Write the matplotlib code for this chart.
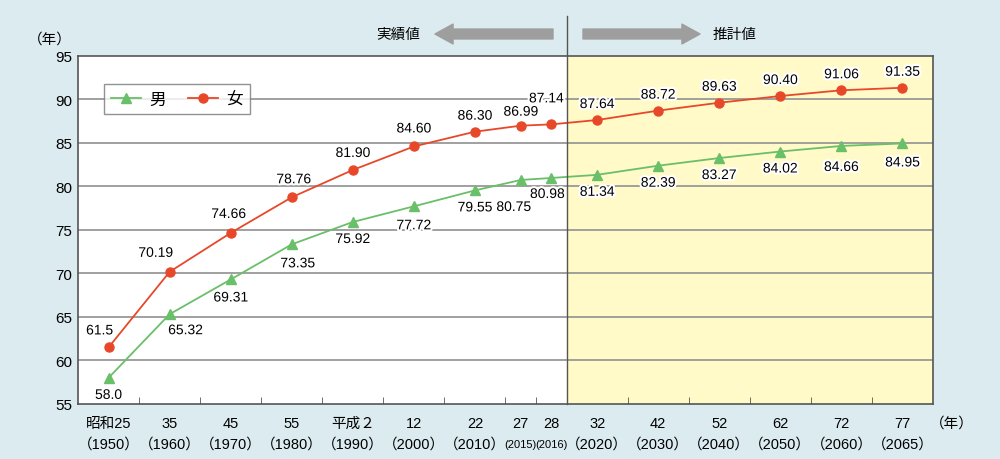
import matplotlib
matplotlib.use('Agg')
import matplotlib.pyplot as plt
import matplotlib.patheffects as pe
import numpy as np

plt.rcParams['font.family'] = ['Liberation Sans', 'Noto Sans CJK JP', 'DejaVu Sans']

# データ
eras = ['昭和25', '35', '45', '55', '平成２', '12', '22', '27', '28',
        '32', '42', '52', '62', '72', '77']
years = ['1950', '1960', '1970', '1980', '1990', '2000', '2010', '2015', '2016',
         '2020', '2030', '2040', '2050', '2060', '2065']
male = [58.0, 65.32, 69.31, 73.35, 75.92, 77.72, 79.55, 80.75, 80.98,
        81.34, 82.39, 83.27, 84.02, 84.66, 84.95]
female = [61.5, 70.19, 74.66, 78.76, 81.90, 84.60, 86.30, 86.99, 87.14,
          87.64, 88.72, 89.63, 90.40, 91.06, 91.35]
male_txt = ['58.0', '65.32', '69.31', '73.35', '75.92', '77.72', '79.55', '80.75', '80.98',
            '81.34', '82.39', '83.27', '84.02', '84.66', '84.95']
female_txt = ['61.5', '70.19', '74.66', '78.76', '81.90', '84.60', '86.30', '86.99', '87.14',
              '87.64', '88.72', '89.63', '90.40', '91.06', '91.35']

# 2015・2016 は半分の幅
widths = np.array([0.5 if y in ('2015', '2016') else 1.0 for y in years])
edges = np.concatenate([[0], np.cumsum(widths)])
x = edges[:-1] + widths / 2
split = edges[years.index('2020')]

# ラベルのずらし (px)
f_off = [(-9, 17), (-14, 19), (-2, 19), (2, 18), (0, 17), (0, 18), (0, 16), (0, 14), (-5, 26),
         (0, 16), (0, 16), (0, 16), (0, 16), (0, 16), (0, 16)]
m_off = [(0, -17), (16, -16), (0, -18), (6, -19), (0, -17), (0, -19), (0, -17), (-7, -27), (-4, -16),
         (0, -17), (0, -17), (0, -17), (0, -17), (0, -21), (0, -19)]

bg = '#DCEBF0'
red = '#E8482A'
green = '#6ABF69'

fig = plt.figure(figsize=(10, 4.6), dpi=100, facecolor=bg)
ax = fig.add_axes([0.078, 0.1196, 0.855, 0.7565])
ax.set_facecolor('white')
ax.set_xlim(0, edges[-1])
ax.set_ylim(55, 95)
ax.axvspan(split, edges[-1], color='#FFFAC8', zorder=0)

for yv in range(60, 95, 5):
    ax.axhline(yv, color='#999999', lw=1.3, zorder=1)

ax.plot(x, male, color=green, lw=1.3, marker='^', ms=7.5, zorder=3, label='男')
ax.plot(x, female, color=red, lw=1.3, marker='o', ms=6.5, zorder=3, label='女')

halo = [pe.withStroke(linewidth=3, foreground='white')]
for i in range(len(x)):
    dx, dy = f_off[i]
    ax.annotate(female_txt[i], (x[i], female[i]), xytext=(dx * 0.72, dy * 0.72),
                textcoords='offset points', ha='center', va='center', fontsize=10,
                path_effects=halo, zorder=4)
    dx, dy = m_off[i]
    ax.annotate(male_txt[i], (x[i], male[i]), xytext=(dx * 0.72, dy * 0.72),
                textcoords='offset points', ha='center', va='center', fontsize=10,
                path_effects=halo, zorder=4)

# 軸
for s in ax.spines.values():
    s.set_color('#555555')
    s.set_linewidth(1.2)
ax.set_yticks(range(55, 96, 5))
ax.tick_params(axis='y', length=0, labelsize=11, pad=4)
ax.set_xticks(x)
ax.set_xticklabels([])
ax.set_xticks(edges[1:-1], minor=True)
ax.tick_params(axis='x', which='major', length=0)
ax.tick_params(axis='x', which='minor', direction='in', length=5, color='#555555')

for i in range(len(x)):
    small = years[i] in ('2015', '2016')
    ax.annotate(eras[i], (x[i], 0), xycoords=('data', 'axes fraction'), xytext=(0, -19 * 0.72),
                textcoords='offset points', ha='center', va='center', fontsize=10.5)
    ax.annotate('(' + years[i] + ')' if small else '（' + years[i] + '）', (x[i], 0),
                xycoords=('data', 'axes fraction'), xytext=(0, -40 * 0.72),
                textcoords='offset points', ha='center', va='center',
                fontsize=8 if small else 10.5)

fig.text(0.952, 1 - 424 / 460, '（年）', ha='center', va='center', fontsize=10.5)
fig.text(0.05, 1 - 40 / 460, '（年）', ha='center', va='center', fontsize=10.5)

# 実績値 / 推計値
ax.axvline(split, ymin=0, ymax=(405 - 17) / 348, color='#555555', lw=1, clip_on=False, zorder=5)
arrow = dict(arrowstyle='simple,head_length=1.0,head_width=1.1,tail_width=0.55',
             color='#9E9E9E', mutation_scale=13, shrinkA=0, shrinkB=0)
yy = 1 - 35 / 460
ax.annotate('', xy=(0.435, yy), xytext=(0.553, yy), xycoords='figure fraction', arrowprops=arrow)
ax.annotate('', xy=(0.700, yy), xytext=(0.583, yy), xycoords='figure fraction', arrowprops=arrow)
fig.text(0.398, yy, '実績値', ha='center', va='center', fontsize=10.5)
fig.text(0.735, yy, '推計値', ha='center', va='center', fontsize=10.5)

leg = ax.legend(loc='upper left', bbox_to_anchor=(0.030, 0.92), borderaxespad=0, ncol=2,
                frameon=True, fancybox=False, edgecolor='#777777', fontsize=12,
                handlelength=1.8, handletextpad=0.5, columnspacing=1.3, borderpad=0.45)
leg.get_frame().set_linewidth(1)
leg.set_zorder(6)

fig.savefig('out.png', dpi=100, facecolor=bg)
